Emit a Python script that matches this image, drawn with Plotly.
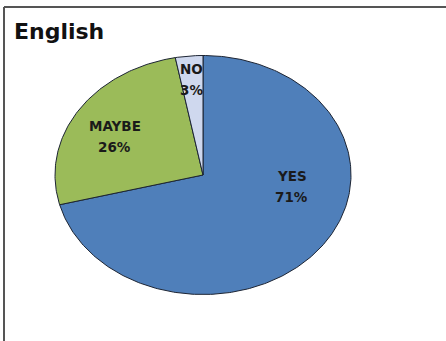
import numpy as np
import plotly.graph_objects as go

# Survey answers for the English question
categories = ["YES", "MAYBE", "NO"]
shares = [71, 26, 3]
title_text = "English"

colors = {"YES": "#4f7fba", "MAYBE": "#9bbb59", "NO": "#cfd8ee"}
edge = "#1c2433"

# Pie is drawn in unit coordinates; axis ranges stretch it into the tilted ellipse
W, H = 446, 341
cx, cy = 203, 175          # centre in pixels
rx, ry = 148, 119.5        # semi-axes in pixels
x_range = [-cx / rx, (W - cx) / rx]
y_range = [-(H - cy) / ry, cy / ry]

fig = go.Figure()

total = float(sum(shares))
start = 0.0
for name, val in zip(categories, shares):
    frac = val / total
    a0, a1 = start, start + frac
    t = np.linspace(a0, a1, max(8, int(frac * 400))) * 2 * np.pi
    xs = np.concatenate([[0], np.sin(t), [0]])
    ys = np.concatenate([[0], np.cos(t), [0]])
    fig.add_trace(go.Scatter(
        x=xs, y=ys, mode="lines", fill="toself",
        fillcolor=colors[name],
        line=dict(color=edge, width=1),
        hoverinfo="skip", showlegend=False,
    ))
    start = a1

# Label positions (unit coordinates) for each slice
label_pos = {"YES": (0.60, -0.09), "MAYBE": (-0.595, 0.33), "NO": (-0.075, 0.80)}
label_font = dict(family="DejaVu Sans", size=13.5, color="#1a1a1a")
for name, val in zip(categories, shares):
    lx, ly = label_pos[name]
    fig.add_annotation(x=lx, y=ly, text=f"<b>{name}</b>", showarrow=False,
                       font=label_font, yshift=10, xanchor="center", yanchor="middle")
    fig.add_annotation(x=lx, y=ly, text=f"<b>{val}%</b>", showarrow=False,
                       font=label_font, yshift=-11, xanchor="center", yanchor="middle")

# Title
fig.add_annotation(xref="paper", yref="paper", x=12 / W, y=1 - 31 / H,
                   text=f"<b>{title_text}</b>", showarrow=False,
                   font=dict(family="DejaVu Sans", size=22, color="#111111"),
                   xanchor="left", yanchor="middle")

# Frame lines along the top and left edge
fig.add_shape(type="line", xref="paper", yref="paper", x0=4 / W, x1=1, y0=1 - 7 / H, y1=1 - 7 / H,
              line=dict(color="#555555", width=2))
fig.add_shape(type="line", xref="paper", yref="paper", x0=4 / W, x1=4 / W, y0=0, y1=1 - 7 / H,
              line=dict(color="#555555", width=2))

fig.update_xaxes(range=x_range, visible=False, fixedrange=True)
fig.update_yaxes(range=y_range, visible=False, fixedrange=True)
fig.update_layout(width=W, height=H, margin=dict(l=0, r=0, t=0, b=0),
                  paper_bgcolor="white", plot_bgcolor="white")

fig.write_html("out.html", config={"displayModeBar": False})
